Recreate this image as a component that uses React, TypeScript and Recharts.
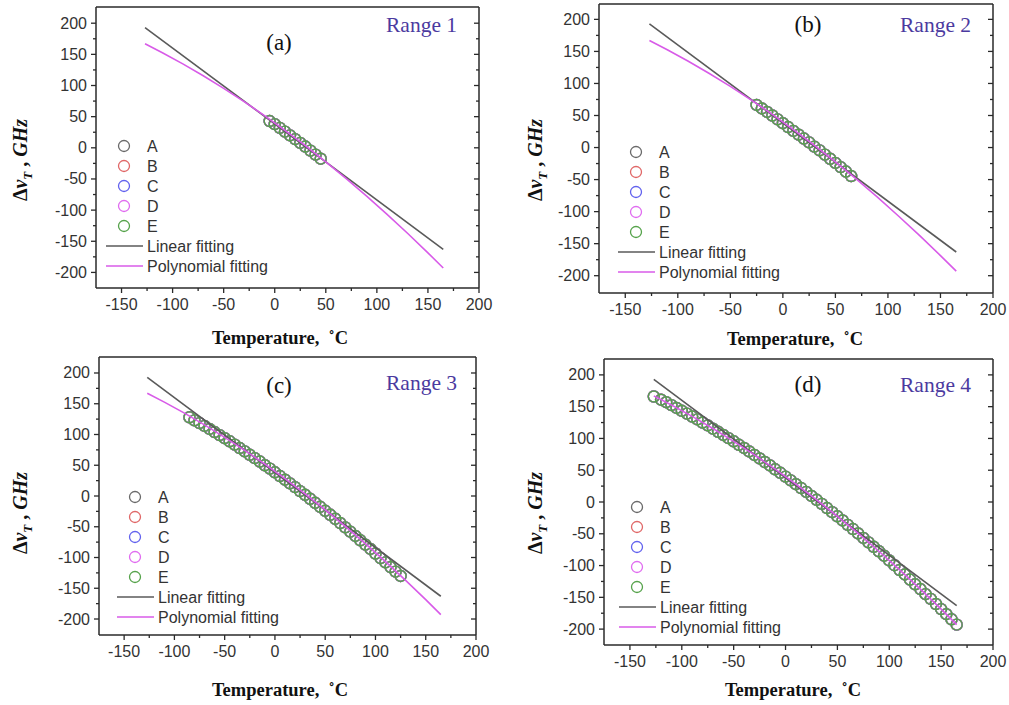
import React from 'react';
import { ScatterChart, Scatter, XAxis, YAxis } from 'recharts';

// axis ticks (majors get labels, the 25-step ones are minor ticks)
const xTicks = [-150, -125, -100, -75, -50, -25, 0, 25, 50, 75, 100, 125, 150, 175, 200];
const yTicks = [-200, -175, -150, -125, -100, -75, -50, -25, 0, 25, 50, 75, 100, 125, 150, 175, 200];

const seriesNames = ['A', 'B', 'C', 'D', 'E'];
const seriesColors = ['#6a6a6a', '#e06868', '#6262ee', '#e06cf0', '#56a34b'];

// fitted curves (temperature, detuning)
const linearFit = [[-127, 193], [165, -163]];
const polyFit = [
  [-127, 167], [-110, 152.6], [-90, 134.7], [-70, 115.6], [-50, 95.4], [-30, 74.1],
  [-10, 51.7], [10, 28.1], [30, 3.4], [50, -22.5], [70, -49.4], [90, -77.5],
  [110, -106.8], [130, -137.1], [150, -168.6], [165, -192.9],
];

// measured points for each temperature range
const range1 = [
  [-5, 43], [0, 38], [5, 32], [10, 26], [15, 20], [20, 14], [25, 8], [30, 2],
  [35, -4.5], [40, -11], [45, -17.5],
];
const range2 = [
  [-25, 66.5], [-20, 61], [-15, 55.5], [-10, 50], [-5, 44], [0, 38], [5, 32], [10, 26],
  [15, 20], [20, 14], [25, 8], [30, 1.5], [35, -4.5], [40, -11], [45, -17.5], [50, -24],
  [55, -30.5], [60, -37.5], [65, -44.5],
];
const range3 = [
  [-85, 128], [-80, 123], [-75, 118.5], [-70, 114], [-65, 109], [-60, 104], [-55, 99],
  [-50, 94], [-45, 89], [-40, 83.5], [-35, 78], [-30, 72.5], [-25, 67], [-20, 61.5],
  [-15, 56], [-10, 50], [-5, 44.5], [0, 38.5], [5, 32.5], [10, 26.5], [15, 20.5],
  [20, 14.5], [25, 8], [30, 2], [35, -4.5], [40, -11], [45, -17.5], [50, -24],
  [55, -30.5], [60, -37], [65, -44], [70, -51], [75, -58], [80, -65], [85, -72],
  [90, -79], [95, -86], [100, -93.5], [105, -101], [110, -108], [115, -115.5],
  [120, -123], [125, -130],
];
const range4 = [
  [-127, 166], [-120, 161], [-115, 157], [-110, 152.5], [-105, 148], [-100, 143.5],
  [-95, 139], [-90, 134.5], [-85, 130], [-80, 125], [-75, 120.5], [-70, 115.5],
  [-65, 110.5], [-60, 105.5], [-55, 100.5], [-50, 95.5], [-45, 90], [-40, 85],
  [-35, 79.5], [-30, 74], [-25, 68.5], [-20, 63], [-15, 57.5], [-10, 51.5], [-5, 46],
  [0, 40], [5, 34], [10, 28], [15, 22], [20, 16], [25, 9.5], [30, 3.5], [35, -3],
  [40, -9.5], [45, -16], [50, -22.5], [55, -29], [60, -36], [65, -42.5], [70, -49.5],
  [75, -56.5], [80, -63.5], [85, -70.5], [90, -77.5], [95, -84.5], [100, -92],
  [105, -99.5], [110, -107], [115, -114], [120, -122], [125, -129.5], [130, -137],
  [135, -145], [140, -152.5], [145, -160.5], [150, -168.5], [155, -176.5], [160, -184.5],
  [165, -193],
];

const toPts = (arr: number[][]) => arr.map(([x, y]) => ({ x, y }));

const INK = '#2a2a2a';
const TICK_FONT = '"Liberation Sans", Arial, sans-serif';
const SERIF = '"Liberation Serif", "Times New Roman", serif';
const LINEAR_COLOR = '#5a5a5a';
const POLY_COLOR = '#d85be8';

const isMajor = (v: number) => Math.abs(v % 50) === 0;

const BottomTick = (props: any) => {
  const { x, y, payload } = props;
  const major = isMajor(payload.value);
  return (
    <g>
      <line x1={x} x2={x} y1={y} y2={y + (major ? 5 : 3)} stroke={INK} strokeWidth={1.3} />
      {major && (
        <text x={x} y={y + 22} textAnchor="middle" fontSize={16} fontFamily={TICK_FONT} fill="#333">
          {payload.value}
        </text>
      )}
    </g>
  );
};

const LeftTick = (props: any) => {
  const { x, y, payload } = props;
  const major = isMajor(payload.value);
  return (
    <g>
      <line x1={x - (major ? 5 : 3)} x2={x} y1={y} y2={y} stroke={INK} strokeWidth={1.3} />
      {major && (
        <text x={x - 9} y={y + 5.5} textAnchor="end" fontSize={16} fontFamily={TICK_FONT} fill="#333">
          {payload.value}
        </text>
      )}
    </g>
  );
};

const TopTick = (props: any) => {
  const { x, y, payload } = props;
  const len = isMajor(payload.value) ? 5 : 3;
  return <line x1={x} x2={x} y1={y} y2={y + len} stroke={INK} strokeWidth={1.3} />;
};

const RightTick = (props: any) => {
  const { x, y, payload } = props;
  const len = isMajor(payload.value) ? 5 : 3;
  return <line x1={x - len} x2={x} y1={y} y2={y} stroke={INK} strokeWidth={1.3} />;
};

const ring = (color: string) => (props: any) =>
  <circle cx={props.cx} cy={props.cy} r={5.5} fill="none" stroke={color} strokeWidth={1.4} />;

const noMark = () => <g />;

const panels = [
  { tag: '(a)', title: 'Range 1', data: range1, L: 96, R: 479, T: 7, B: 288, yDom: [-225, 226],
    legend: [28, 139], tagAt: [279, 43], titleAt: [386, 25], xLabelAt: [280, 338], yLabelAt: [22, 160] },
  { tag: '(b)', title: 'Range 2', data: range2, L: 599, R: 993, T: 4, B: 293, yDom: [-227, 224],
    legend: [37, 148], tagAt: [808, 25], titleAt: [900, 25], xLabelAt: [795, 339], yLabelAt: [537, 160] },
  { tag: '(c)', title: 'Range 3', data: range3, L: 99, R: 476, T: 357, B: 635, yDom: [-226, 226],
    legend: [36, 140], tagAt: [279, 386], titleAt: [386, 383], xLabelAt: [280, 690], yLabelAt: [22, 513] },
  { tag: '(d)', title: 'Range 4', data: range4, L: 604, R: 993, T: 359, B: 645, yDom: [-225, 225],
    legend: [33, 148], tagAt: [808, 385], titleAt: [900, 385], xLabelAt: [793, 690], yLabelAt: [537, 513] },
];

const FitLegend = ({ left, top }: { left: number; top: number }) => (
  <svg style={{ position: 'absolute', left, top, overflow: 'visible' }} width={1} height={1}>
    {seriesNames.map((n, i) => (
      <g key={n}>
        <circle cx={0} cy={i * 20} r={5.5} fill="none" stroke={seriesColors[i]} strokeWidth={1.3} />
        <text x={23} y={i * 20 + 6} fontSize={16} fontFamily={TICK_FONT} fill="#333">{n}</text>
      </g>
    ))}
    <line x1={-18} x2={19} y1={100} y2={100} stroke={LINEAR_COLOR} strokeWidth={1.6} />
    <text x={23} y={106} fontSize={16} fontFamily={TICK_FONT} fill="#333">Linear fitting</text>
    <line x1={-18} x2={19} y1={120} y2={120} stroke={POLY_COLOR} strokeWidth={1.6} />
    <text x={23} y={126} fontSize={16} fontFamily={TICK_FONT} fill="#333">Polynomial fitting</text>
  </svg>
);

const Panel = ({ p }: { p: (typeof panels)[number] }) => {
  const pts = toPts(p.data);
  const width = p.R - p.L + 94;
  const height = p.B - p.T + 66;
  return (
    <>
      <div style={{ position: 'absolute', left: p.L - 80, top: p.T - 6 }}>
        <ScatterChart width={width} height={height} margin={{ top: 6, right: 14, bottom: 30, left: 40 }}>
          <XAxis xAxisId="b" dataKey="x" type="number" domain={[-175, 200]} allowDataOverflow
            ticks={xTicks} interval={0} height={30} tickSize={0} tickMargin={0} tickLine={false}
            tick={BottomTick} axisLine={{ stroke: INK, strokeWidth: 1.5 }} />
          <XAxis xAxisId="t" orientation="top" mirror type="number" domain={[-175, 200]} allowDataOverflow
            ticks={xTicks} interval={0} height={30} tickSize={0} tickMargin={0} tickLine={false}
            tick={TopTick} axisLine={{ stroke: INK, strokeWidth: 1.5 }} />
          <YAxis yAxisId="l" dataKey="y" type="number" domain={p.yDom} allowDataOverflow
            ticks={yTicks} interval={0} width={40} tickSize={0} tickMargin={0} tickLine={false}
            tick={LeftTick} axisLine={{ stroke: INK, strokeWidth: 1.5 }} />
          <YAxis yAxisId="r" orientation="right" mirror type="number" domain={p.yDom} allowDataOverflow
            ticks={yTicks} interval={0} width={40} tickSize={0} tickMargin={0} tickLine={false}
            tick={RightTick} axisLine={{ stroke: INK, strokeWidth: 1.5 }} />
          {seriesNames.map((n, i) => (
            <Scatter key={n} name={n} xAxisId="b" yAxisId="l" data={pts}
              shape={ring(seriesColors[i])} isAnimationActive={false} />
          ))}
          <Scatter name="Linear fitting" xAxisId="b" yAxisId="l" data={toPts(linearFit)}
            line={{ stroke: LINEAR_COLOR, strokeWidth: 1.6 }} shape={noMark} isAnimationActive={false} />
          <Scatter name="Polynomial fitting" xAxisId="b" yAxisId="l" data={toPts(polyFit)}
            line={{ stroke: POLY_COLOR, strokeWidth: 1.6 }} shape={noMark} isAnimationActive={false} />
        </ScatterChart>
      </div>
      <FitLegend left={p.L + p.legend[0]} top={p.T + p.legend[1]} />
      <div style={{ position: 'absolute', left: p.tagAt[0], top: p.tagAt[1], transform: 'translate(-50%, -50%)',
        fontFamily: SERIF, fontSize: 23, color: '#111', whiteSpace: 'nowrap' }}>{p.tag}</div>
      <div style={{ position: 'absolute', left: p.titleAt[0], top: p.titleAt[1], transform: 'translateY(-50%)',
        fontFamily: SERIF, fontSize: 21.5, color: '#4b3aa0', whiteSpace: 'nowrap' }}>{p.title}</div>
      <div style={{ position: 'absolute', left: p.xLabelAt[0], top: p.xLabelAt[1], transform: 'translate(-50%, -50%)',
        fontFamily: SERIF, fontSize: 18.5, fontWeight: 'bold', color: '#111', whiteSpace: 'nowrap' }}>
        Temperature,&nbsp; ˚C
      </div>
      <div style={{ position: 'absolute', left: p.yLabelAt[0], top: p.yLabelAt[1],
        transform: 'translate(-50%, -50%) rotate(-90deg)', fontFamily: SERIF, fontSize: 20,
        fontWeight: 'bold', color: '#111', whiteSpace: 'nowrap' }}>
        Δ<i>ν</i><sub style={{ fontSize: 13 }}><i>T</i></sub> , <i>GHz</i>
      </div>
    </>
  );
};

export default function App() {
  return (
    <div style={{ position: 'absolute', left: 0, top: 0, width: 1009, height: 705, background: '#fff', overflow: 'hidden' }}>
      {panels.map((p) => <Panel key={p.tag} p={p} />)}
    </div>
  );
}
